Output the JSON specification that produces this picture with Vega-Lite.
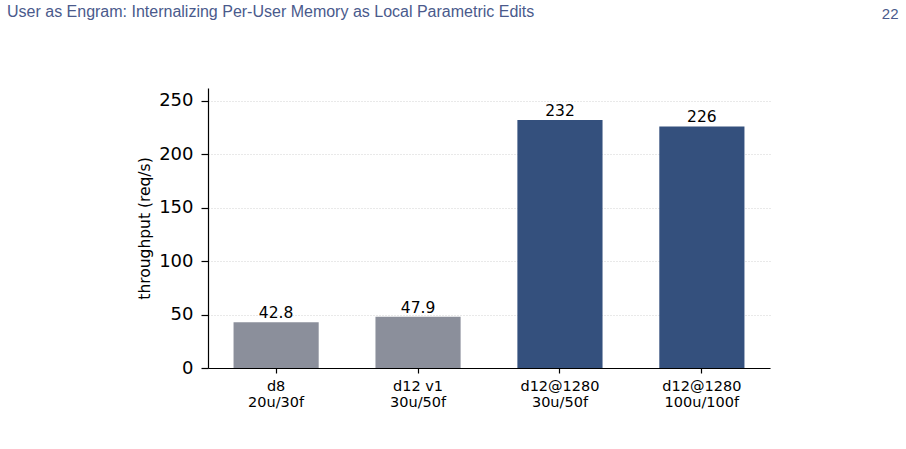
{
  "$schema": "https://vega.github.io/schema/vega-lite/v6.json",
  "width": 562,
  "height": 280,
  "autosize": {"type": "none"},
  "padding": {"left": 208, "top": 88, "right": 136, "bottom": 81},
  "background": "white",
  "title": {
    "text": "User as Engram: Internalizing Per-User Memory as Local Parametric Edits",
    "anchor": "start",
    "frame": "group",
    "dx": -201,
    "offset": 0,
    "dy": 27,
    "baseline": "alphabetic",
    "font": "Liberation Sans",
    "fontSize": 16,
    "fontWeight": "normal",
    "color": "#4a5a8c"
  },
  "config": {
    "view": {"stroke": null},
    "font": "DejaVu Sans"
  },
  "data": {
    "values": [
      {"config": "d8|20u/30f", "throughput": 42.8, "label": "42.8", "group": "old"},
      {"config": "d12 v1|30u/50f", "throughput": 47.9, "label": "47.9", "group": "old"},
      {"config": "d12@1280|30u/50f", "throughput": 232, "label": "232", "group": "new"},
      {"config": "d12@1280|100u/100f", "throughput": 226, "label": "226", "group": "new"}
    ]
  },
  "encoding": {
    "x": {
      "field": "config",
      "type": "nominal",
      "sort": null,
      "scale": {"paddingInner": 0.4, "paddingOuter": 0.18},
      "axis": {
        "title": null,
        "labelAngle": 0,
        "labelExpr": "split(datum.label, '|')",
        "labelFont": "DejaVu Sans",
        "labelFontSize": 14.5,
        "labelLineHeight": 16.5,
        "labelColor": "black",
        "labelPadding": 6,
        "domainColor": "black",
        "domainWidth": 1.2,
        "tickColor": "black",
        "tickSize": 5,
        "tickWidth": 1.2
      }
    },
    "y": {
      "field": "throughput",
      "type": "quantitative",
      "scale": {"domain": [0, 262], "nice": false}
    }
  },
  "layer": [
    {
      "mark": {"type": "bar"},
      "encoding": {
        "color": {
          "field": "group",
          "type": "nominal",
          "scale": {"domain": ["old", "new"], "range": ["#8b8f9b", "#34507d"]},
          "legend": null
        },
        "y": {
          "field": "throughput",
          "type": "quantitative",
          "axis": {
            "title": "throughput (req/s)",
            "titleFont": "DejaVu Sans",
            "titleFontSize": 15.5,
            "titleFontWeight": "normal",
            "titleColor": "black",
            "titlePadding": 6,
            "values": [0, 50, 100, 150, 200, 250],
            "labelFont": "DejaVu Sans",
            "labelFontSize": 18,
            "labelColor": "black",
            "labelPadding": 8,
            "domainColor": "black",
            "domainWidth": 1.2,
            "tickColor": "black",
            "tickSize": 7,
            "tickWidth": 1.2,
            "grid": true,
            "gridColor": "#c8c8c8",
            "gridDash": [1, 2],
            "gridWidth": 0.8
          }
        }
      }
    },
    {
      "mark": {"type": "text", "baseline": "alphabetic", "dy": -4, "font": "DejaVu Sans", "fontSize": 15.5, "color": "black"},
      "encoding": {
        "text": {"field": "label"},
        "y": {
          "field": "throughput",
          "type": "quantitative",
          "axis": {
            "orient": "right",
            "title": "22",
            "titleAngle": 0,
            "titleX": 128,
            "titleY": -70,
            "titleAlign": "right",
            "titleBaseline": "alphabetic",
            "titleFont": "Liberation Sans",
            "titleFontSize": 15,
            "titleFontWeight": "normal",
            "titleColor": "#4a5a8c",
            "labels": false,
            "ticks": false,
            "domain": false,
            "grid": false
          }
        }
      }
    }
  ],
  "resolve": {"axis": {"y": "independent"}}
}
